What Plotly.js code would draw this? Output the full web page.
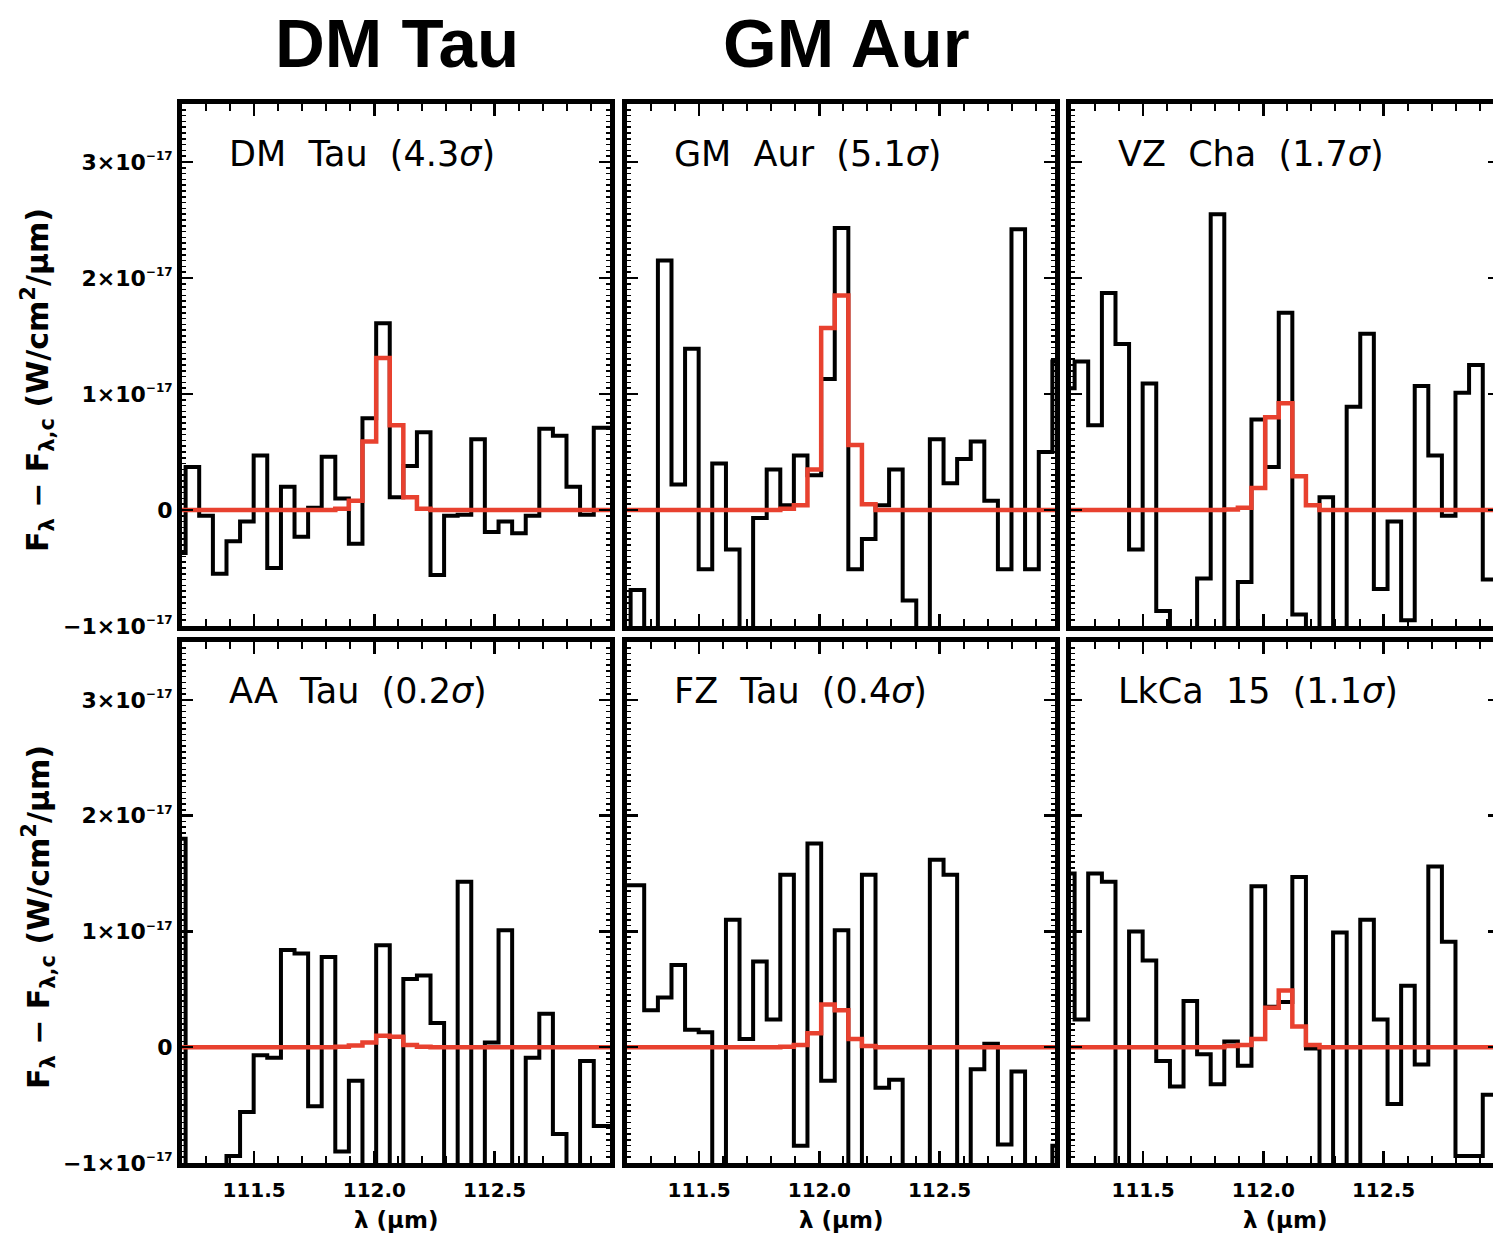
<!DOCTYPE html>
<html><head><meta charset="utf-8">
<script src="https://cdn.plot.ly/plotly-3.0.1.min.js"></script>
<style>html,body{margin:0;padding:0;overflow:hidden;background:#fff;}#chart{width:1505px;height:1237px;}</style>
</head><body><div id="chart"></div>
<script>
// wavelength bin centres (micron)
const wavelength = [111.187, 111.243, 111.300, 111.357, 111.413, 111.470, 111.526, 111.583, 111.640, 111.696, 111.753,
  111.809, 111.866, 111.922, 111.979, 112.036, 112.092, 112.149, 112.205, 112.262, 112.318, 112.375, 112.431,
  112.488, 112.545, 112.601, 112.658, 112.714, 112.771, 112.827, 112.884, 112.941, 112.997];

// continuum-subtracted flux, units of 1e-17 W/cm2/um
const dmTauObs = [-0.37, 0.37, -0.05, -0.55, -0.27, -0.10, 0.47, -0.50, 0.20, -0.23, 0.02, 0.46, 0.10, -0.29, 0.79, 1.61,
  0.11, 0.38, 0.67, -0.56, -0.05, -0.04, 0.61, -0.19, -0.10, -0.20, -0.05, 0.70, 0.64, 0.20, -0.04, 0.71, 0.71];
const dmTauModel = [0, 0, 0, 0, 0, 0, 0, 0, 0, 0, 0, 0, 0.01, 0.08, 0.59, 1.31, 0.73, 0.11, 0.01, 0, 0, 0, 0, 0, 0, 0, 0, 0, 0, 0, 0, 0, 0];

const gmAurObs = [-1.2, -0.69, -1.15, 2.15, 0.22, 1.39, -0.51, 0.40, -0.34, -1.15, -0.07, 0.35, 0.04, 0.47, 0.30, 1.13,
  2.43, -0.51, -0.25, 0.04, 0.35, -0.78, -1.15, 0.61, 0.23, 0.44, 0.59, 0.08, -0.51, 2.42, -0.51, 0.50, 1.28];
const gmAurModel = [0, 0, 0, 0, 0, 0, 0, 0, 0, 0, 0, 0, 0.01, 0.04, 0.35, 1.57, 1.85, 0.56, 0.05, 0, 0, 0, 0, 0, 0, 0, 0, 0, 0, 0, 0, 0, 0];

const vzChaObs = [1.05, 1.28, 0.73, 1.87, 1.43, -0.34, 1.09, -0.87, -1.15, -1.15, -0.59, 2.55, -1.15, -0.62, 0.78, 0.37,
  1.70, -0.90, -1.15, 0.11, -1.15, 0.89, 1.52, -0.68, -0.10, -0.95, 1.07, 0.47, -0.05, 1.01, 1.25, -0.60, -0.60];
const vzChaModel = [0, 0, 0, 0, 0, 0, 0, 0, 0, 0, 0, 0, 0.005, 0.02, 0.19, 0.80, 0.92, 0.29, 0.04, 0, 0, 0, 0, 0, 0, 0, 0, 0, 0, 0, 0, 0, 0];

const aaTauObs = [1.80, -1.15, -1.15, -1.15, -0.94, -0.56, -0.07, -0.09, 0.84, 0.81, -0.51, 0.78, -0.90, -0.29, -1.15, 0.88,
  -1.15, 0.59, 0.62, 0.21, -1.15, 1.43, -1.15, 0.04, 1.01, -1.15, -0.09, 0.29, -0.75, -1.15, -0.12, -0.68, -0.68];
const aaTauModel = [0, 0, 0, 0, 0, 0, 0, 0, 0, 0, 0, 0, 0.005, 0.015, 0.04, 0.10, 0.09, 0.02, 0.005, 0, 0, 0, 0, 0, 0, 0, 0, 0, 0, 0, 0, 0, 0];

const fzTauObs = [1.40, 1.40, 0.32, 0.43, 0.71, 0.15, 0.13, -1.15, 1.10, 0.07, 0.74, 0.24, 1.49, -0.85, 1.76, -0.29,
  1.01, -1.15, 1.49, -0.35, -0.28, -1.15, -1.15, 1.62, 1.49, -1.15, -0.19, 0.03, -0.84, -0.21, -1.15, -1.15, -0.85];
const fzTauModel = [0, 0, 0, 0, 0, 0, 0, 0, 0, 0, 0, 0, 0.005, 0.02, 0.12, 0.37, 0.32, 0.07, 0.01, 0, 0, 0, 0, 0, 0, 0, 0, 0, 0, 0, 0, 0, 0];

const lkCa15Obs = [1.50, 0.24, 1.50, 1.43, -1.15, 1.00, 0.75, -0.12, -0.34, 0.40, -0.06, -0.32, 0.05, -0.16, 1.39, 0.35,
  0.39, 1.47, -0.01, -1.15, 0.99, -1.15, 1.10, 0.24, -0.49, 0.53, -0.15, 1.56, 0.91, -0.94, -0.94, -0.41, -0.41];
const lkCa15Model = [0, 0, 0, 0, 0, 0, 0, 0, 0, 0, 0, 0, 0.01, 0.02, 0.07, 0.34, 0.49, 0.18, 0.02, 0, 0, 0, 0, 0, 0, 0, 0, 0, 0, 0, 0, 0, 0];

const panelLabels = ['DM\u00a0\u00a0Tau\u00a0\u00a0(4.3<i>σ</i>)', 'GM\u00a0\u00a0Aur\u00a0\u00a0(5.1<i>σ</i>)', 'VZ\u00a0\u00a0Cha\u00a0\u00a0(1.7<i>σ</i>)',
  'AA\u00a0\u00a0Tau\u00a0\u00a0(0.2<i>σ</i>)', 'FZ\u00a0\u00a0Tau\u00a0\u00a0(0.4<i>σ</i>)', 'LkCa\u00a0\u00a015\u00a0\u00a0(1.1<i>σ</i>)'];
const headerTitles = ['DM Tau', 'GM Aur'];
const yTickVals = [-1, 0, 1, 2, 3];
const yTickText = ['−1×10<sup><span style="font-size:12px">−17</span></sup>', '0',
  '1×10<sup><span style="font-size:12px">−17</span></sup>', '2×10<sup><span style="font-size:12px">−17</span></sup>',
  '3×10<sup><span style="font-size:12px">−17</span></sup>'];
const xTickVals = [111.5, 112.0, 112.5];
const xTickText = ['111.5', '112.0', '112.5'];
const yTitle = 'F<sub>λ</sub> − F<sub>λ,c</sub> (W/cm<sup>2</sup>/μm)';
const xTitle = 'λ (μm)';

const observed = [dmTauObs, gmAurObs, vzChaObs, aaTauObs, fzTauObs, lkCa15Obs];
const models = [dmTauModel, gmAurModel, vzChaModel, aaTauModel, fzTauModel, lkCa15Model];

const W = 1505, H = 1237;
const colsPx = [[182, 610], [627, 1055], [1071, 1499]];
const rowsPx = [[104, 626], [642, 1163]];

const traces = [];
const layout = {
  width: W, height: H, margin: {l: 0, r: 0, t: 0, b: 0},
  paper_bgcolor: '#fff', plot_bgcolor: '#fff', showlegend: false,
  annotations: []
};
const tickFont = {family: 'DejaVu Sans', size: 20, color: '#000', weight: 'bold'};

for (let i = 0; i < 6; i++) {
  const row = Math.floor(i / 3), col = i % 3;
  const sfx = i === 0 ? '' : String(i + 1);
  const xa = 'x' + sfx, ya = 'y' + sfx;
  traces.push({x: wavelength, y: observed[i], xaxis: xa, yaxis: ya, type: 'scatter', mode: 'lines',
    line: {shape: 'hvh', color: '#000', width: 4}, hoverinfo: 'skip'});
  traces.push({x: wavelength, y: models[i], xaxis: xa, yaxis: ya, type: 'scatter', mode: 'lines',
    line: {shape: 'hvh', color: '#e8412f', width: 4.5}, hoverinfo: 'skip'});
  const cx = colsPx[col], ry = rowsPx[row];
  layout['xaxis' + sfx] = {
    domain: [cx[0] / W, cx[1] / W], anchor: ya, range: [111.2, 112.98],
    showline: true, linewidth: 5, linecolor: '#000', mirror: 'allticks',
    ticks: 'inside', ticklen: 12, tickwidth: 2.5, tickcolor: '#000',
    tickmode: 'array', tickvals: xTickVals, ticktext: xTickText,
    showticklabels: row === 1, tickfont: tickFont, ticklabelstandoff: 5,
    minor: {dtick: 0.1, tick0: 111.2, ticks: 'inside', ticklen: 7, tickwidth: 2, tickcolor: '#000', showgrid: false},
    showgrid: false, zeroline: false, fixedrange: true
  };
  layout['yaxis' + sfx] = {
    domain: [1 - ry[1] / H, 1 - ry[0] / H], anchor: xa, range: [-1.0, 3.5],
    showline: true, linewidth: 5, linecolor: '#000', mirror: 'allticks',
    ticks: 'inside', ticklen: 11, tickwidth: 2.5, tickcolor: '#000',
    tickmode: 'array', tickvals: yTickVals, ticktext: yTickText,
    showticklabels: col === 0, tickfont: {family: 'DejaVu Sans', size: 22, color: '#000', weight: 'bold'},
    minor: {dtick: 0.05, tick0: 0, ticks: 'inside', ticklen: 4, tickwidth: 1.5, tickcolor: '#000', showgrid: false},
    showgrid: false, zeroline: false, fixedrange: true
  };
  layout.annotations.push({
    text: panelLabels[i], xref: xa + ' domain', yref: ya + ' domain', x: 0.105, y: 0.905,
    xanchor: 'left', yanchor: 'middle', showarrow: false,
    font: {family: 'DejaVu Sans', size: 35, color: '#000', weight: 'normal'}
  });
  if (row === 1) {
    layout.annotations.push({
      text: xTitle, xref: xa + ' domain', yref: 'paper', x: 0.5, y: 1 - 1220 / H,
      xanchor: 'center', yanchor: 'middle', showarrow: false,
      font: {family: 'DejaVu Sans', size: 23, color: '#000', weight: 'bold'}
    });
  }
  if (col === 0) {
    layout.annotations.push({
      text: yTitle, xref: 'paper', yref: 'paper', x: 38 / W, y: 1 - (row === 0 ? 380 : 917) / H,
      xanchor: 'center', yanchor: 'middle', textangle: -90, showarrow: false,
      font: {family: 'DejaVu Sans', size: 30, color: '#000', weight: 'bold'}
    });
  }
}
layout.annotations.push({text: headerTitles[0], xref: 'paper', yref: 'paper', x: 397 / W, y: 1 - 44 / H,
  xanchor: 'center', yanchor: 'middle', showarrow: false,
  font: {family: 'Liberation Sans', size: 69, color: '#000', weight: 'bold'}});
layout.annotations.push({text: headerTitles[1], xref: 'paper', yref: 'paper', x: 846 / W, y: 1 - 44 / H,
  xanchor: 'center', yanchor: 'middle', showarrow: false,
  font: {family: 'Liberation Sans', size: 69, color: '#000', weight: 'bold'}});

Plotly.newPlot('chart', traces, layout, {displayModeBar: false, staticPlot: true});
</script>
</body></html>
